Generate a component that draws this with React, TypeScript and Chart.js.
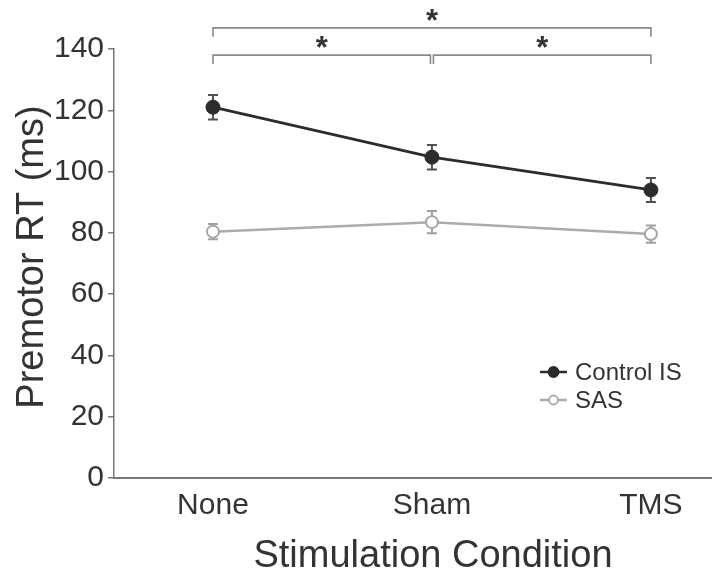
import React, { useEffect, useRef } from "react";
import { Chart, registerables } from "chart.js";

Chart.register(...registerables);

// ---- data ----
const categories = ["None", "Sham", "TMS"];
const controlIS = [121, 104.7, 94];
const controlErr = [4, 4, 3.9];
const sas = [80.4, 83.5, 79.6];
const sasErr = [2.5, 3.6, 2.8];
const yTicks = [0, 20, 40, 60, 80, 100, 120, 140];
const seriesNames = ["Control IS", "SAS"];
// significance comparisons
const comparisonFrom = [0, 1, 0];
const comparisonTo = [1, 2, 2];
const comparisonLevel = [138, 138, 146.9];
const comparisonLabel = ["*", "*", "*"];

const FONT = '"Liberation Sans", Arial, Helvetica, sans-serif';
const TEXT = "#333333";
const DARK = "#2c2c2c";
const LIGHT = "#ababab";

const overlayPlugin = {
  id: "overlay",
  beforeDatasetsDraw(chart: any) {
    const ctx = chart.ctx;
    const xs = chart.scales.x;
    const ys = chart.scales.y;
    const sets = [
      { v: controlIS, e: controlErr, c: "#505050" },
      { v: sas, e: sasErr, c: "#a0a0a0" },
    ];
    ctx.save();
    ctx.lineWidth = 2;
    for (const s of sets) {
      ctx.strokeStyle = s.c;
      s.v.forEach((v, i) => {
        const x = xs.getPixelForValue(i);
        const yt = ys.getPixelForValue(v + s.e[i]);
        const yb = ys.getPixelForValue(v - s.e[i]);
        ctx.beginPath();
        ctx.moveTo(x, yt);
        ctx.lineTo(x, yb);
        ctx.moveTo(x - 5, yt);
        ctx.lineTo(x + 5, yt);
        ctx.moveTo(x - 5, yb);
        ctx.lineTo(x + 5, yb);
        ctx.stroke();
      });
    }
    ctx.restore();
  },
  afterDraw(chart: any) {
    const ctx = chart.ctx;
    const xs = chart.scales.x;
    const ys = chart.scales.y;
    ctx.save();
    // brackets
    ctx.strokeStyle = "#8a8a8a";
    ctx.lineWidth = 1.6;
    const drop = 2.9;
    comparisonFrom.forEach((f, k) => {
      const t = comparisonTo[k];
      let x0 = xs.getPixelForValue(f);
      let x1 = xs.getPixelForValue(t);
      if (comparisonLevel[k] < 140) {
        if (f === 1) x0 += 1.5;
        if (t === 1) x1 -= 1.5;
      }
      const y = ys.getPixelForValue(comparisonLevel[k]);
      const yd = ys.getPixelForValue(comparisonLevel[k] - drop);
      ctx.beginPath();
      ctx.moveTo(x0, yd);
      ctx.lineTo(x0, y);
      ctx.lineTo(x1, y);
      ctx.lineTo(x1, yd);
      ctx.stroke();
      ctx.fillStyle = TEXT;
      ctx.font = `bold 31px ${FONT}`;
      ctx.textAlign = "center";
      ctx.textBaseline = "alphabetic";
      ctx.fillText(comparisonLabel[k], (x0 + x1) / 2, y + 3);
    });

    // legend
    const items = [
      { name: seriesNames[0], color: DARK, fill: DARK, r: 5, y: 372 },
      { name: seriesNames[1], color: LIGHT, fill: "#ffffff", r: 4.5, y: 400 },
    ];
    for (const it of items) {
      ctx.strokeStyle = it.color;
      ctx.lineWidth = 2.5;
      ctx.beginPath();
      ctx.moveTo(540, it.y);
      ctx.lineTo(567, it.y);
      ctx.stroke();
      ctx.beginPath();
      ctx.arc(553.5, it.y, it.r, 0, Math.PI * 2);
      ctx.fillStyle = it.fill;
      ctx.fill();
      ctx.lineWidth = 1.8;
      ctx.stroke();
      ctx.fillStyle = TEXT;
      ctx.font = `24px ${FONT}`;
      ctx.textAlign = "left";
      ctx.textBaseline = "middle";
      ctx.fillText(it.name, 575, it.y + 1);
    }

    // axis titles
    ctx.fillStyle = TEXT;
    ctx.font = `38px ${FONT}`;
    ctx.textAlign = "center";
    ctx.textBaseline = "alphabetic";
    ctx.fillText("Stimulation Condition", 433, 567);
    ctx.translate(43, 257);
    ctx.rotate(-Math.PI / 2);
    ctx.fillText("Premotor RT (ms)", 0, 0);
    ctx.restore();
  },
};

export default function App() {
  const ref = useRef<HTMLCanvasElement | null>(null);
  useEffect(() => {
    document.body.style.margin = "0";
    const canvas = ref.current;
    if (!canvas) return;
    const chart = new Chart(canvas, {
      type: "line",
      data: {
        datasets: [
          {
            label: seriesNames[0],
            data: controlIS.map((v, i) => ({ x: i, y: v })),
            borderColor: DARK,
            backgroundColor: DARK,
            borderWidth: 2.8,
            pointRadius: 7,
            pointBorderWidth: 1,
            pointBackgroundColor: DARK,
            pointBorderColor: DARK,
            tension: 0,
          },
          {
            label: seriesNames[1],
            data: sas.map((v, i) => ({ x: i, y: v })),
            borderColor: LIGHT,
            backgroundColor: "#ffffff",
            borderWidth: 2.5,
            pointRadius: 6,
            pointBorderWidth: 2,
            pointBackgroundColor: "#ffffff",
            pointBorderColor: "#a6a6a6",
            tension: 0,
          },
        ],
      },
      options: {
        responsive: false,
        animation: false,
        layout: {
          autoPadding: false,
          padding: { top: 49, right: 0, left: 0, bottom: 0 },
        },
        plugins: {
          legend: { display: false },
          tooltip: { enabled: false },
        },
        scales: {
          x: {
            type: "linear",
            min: -0.452,
            max: 2.279,
            afterBuildTicks: (s: any) => {
              s.ticks = categories.map((_, i) => ({ value: i }));
            },
            afterFit: (s: any) => {
              s.height = 97;
              s.paddingLeft = 0;
              s.paddingRight = 0;
            },
            ticks: {
              callback: (v: any) => categories[v] ?? "",
              font: { family: FONT, size: 30 },
              color: TEXT,
              padding: 10,
              maxRotation: 0,
              autoSkip: false,
            },
            grid: { display: false, drawTicks: false },
            border: { display: true, color: "#7a7a7a", width: 2 },
          },
          y: {
            min: 0,
            max: 140,
            afterBuildTicks: (s: any) => {
              s.ticks = yTicks.map((v) => ({ value: v }));
            },
            afterFit: (s: any) => {
              s.width = 114;
            },
            ticks: {
              font: { family: FONT, size: 30 },
              color: TEXT,
              padding: 4,
            },
            grid: {
              drawOnChartArea: false,
              drawTicks: true,
              tickLength: 6,
              color: "#777777",
              lineWidth: 1.5,
            },
            border: { display: true, color: "#777777", width: 1.5 },
          },
        },
      },
      plugins: [overlayPlugin],
    } as any);
    return () => chart.destroy();
  }, []);
  return (
    <canvas
      ref={ref}
      width={712}
      height={575}
      style={{ display: "block", width: 712, height: 575 }}
    />
  );
}
